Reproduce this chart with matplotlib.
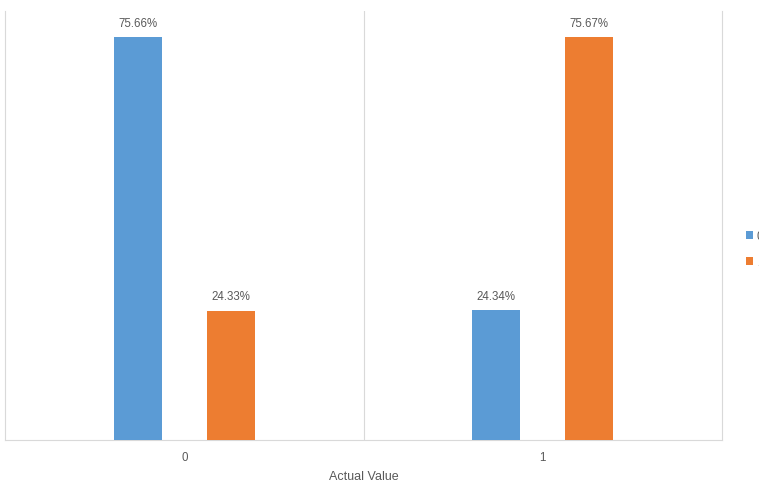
import matplotlib
matplotlib.use("Agg")
import matplotlib.pyplot as plt
import numpy as np

categories = ["0", "1"]
series_names = ["0", "1"]
series0 = [75.66, 24.34]
series1 = [24.33, 75.67]
colors = ["#5B9BD5", "#ED7D31"]

plt.rcParams['font.family'] = ['Liberation Sans', 'DejaVu Sans']

fig = plt.figure(figsize=(7.59, 4.85), dpi=100)
ax = fig.add_axes([5/759, 1-441/485, (722-5)/759, (441-12)/485])

x = np.arange(len(categories))
w = 0.134
off = 0.13
gray = "#595959"
for vals, o, c, name in [(series0, -off, colors[0], series_names[0]), (series1, off, colors[1], series_names[1])]:
    bars = ax.bar(x + o, vals, width=w, color=c, label=name, zorder=3)
    for b, v in zip(bars, vals):
        ax.annotate(f"{v:.2f}%", (b.get_x() + b.get_width()/2, v), xytext=(0, 6),
                    textcoords="offset points", ha="center", va="bottom", fontsize=8.3, color=gray)

ax.set_xlim(-0.5, 1.5)
ax.set_ylim(0, 80.6)
ax.axvline(0.5, color="#d9d9d9", lw=0.8, zorder=1)
for s in ["left", "right", "bottom"]:
    ax.spines[s].set_color("#d9d9d9")
    ax.spines[s].set_linewidth(0.8)
ax.spines["top"].set_visible(False)
ax.set_yticks([])
ax.set_xticks(x)
ax.set_xticklabels(categories, fontsize=8.3, color=gray)
ax.tick_params(axis="x", length=0, pad=8)
ax.set_xlabel("Actual Value", fontsize=9, color=gray, labelpad=5)

leg = fig.legend(loc="center left", bbox_to_anchor=(736/759, 1-250/485), frameon=False,
                 fontsize=8.3, labelcolor=gray, handlelength=0.6, handleheight=0.6,
                 handletextpad=0.3, labelspacing=1.2)

fig.savefig("out.png", dpi=100)
